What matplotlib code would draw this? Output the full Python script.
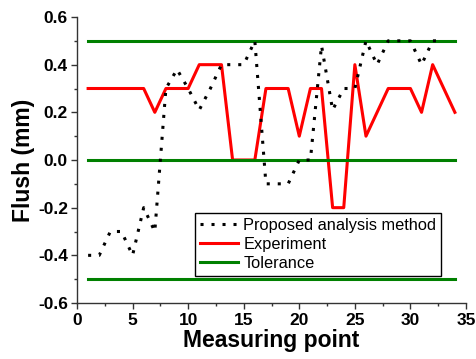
import matplotlib
matplotlib.use("Agg")
import matplotlib.pyplot as plt
from matplotlib.ticker import MultipleLocator, FormatStrFormatter

plt.rcParams['font.family'] = ['Liberation Sans', 'DejaVu Sans']

# Data
points_exp = list(range(1, 35))
experiment = [0.3, 0.3, 0.3, 0.3, 0.3, 0.3, 0.2, 0.3, 0.3, 0.3,
              0.4, 0.4, 0.4, 0.0, 0.0, 0.0, 0.3, 0.3, 0.3, 0.1,
              0.3, 0.3, -0.2, -0.2, 0.4, 0.1, 0.2, 0.3, 0.3, 0.3,
              0.2, 0.4, 0.3, 0.2]
points_prop = list(range(1, 34))
proposed = [-0.4, -0.4, -0.3, -0.3, -0.4, -0.2, -0.3, 0.3, 0.38, 0.3,
            0.21, 0.3, 0.4, 0.4, 0.4, 0.5, -0.1, -0.1, -0.1, 0.0,
            0.0, 0.48, 0.21, 0.3, 0.3, 0.5, 0.4, 0.5, 0.5, 0.5,
            0.4, 0.5, 0.5]
tolerance = [0.5, 0.0, -0.5]
tol_range = [1, 34]

fig = plt.figure(figsize=(4.77, 3.59), dpi=100)
ax = fig.add_axes([77/477, 1-303/359, (466-77)/477, (303-17)/359])

ax.plot(points_exp, experiment, color='#ff0000', lw=2.2, zorder=2, label='Experiment')
for i, t in enumerate(tolerance):
    ax.plot(tol_range, [t, t], color='#008000', lw=2.2, zorder=3,
            label='Tolerance' if i == 0 else None)
ax.plot(points_prop, proposed, color='black', lw=2.2, linestyle=(0, (1, 2.6)),
        zorder=4, label='Proposed analysis method')

ax.set_xlim(0, 35)
ax.set_ylim(-0.6, 0.6)
ax.xaxis.set_major_locator(MultipleLocator(5))
ax.xaxis.set_minor_locator(MultipleLocator(2.5))
ax.yaxis.set_major_locator(MultipleLocator(0.2))
ax.yaxis.set_minor_locator(MultipleLocator(0.1))
ax.yaxis.set_major_formatter(FormatStrFormatter('%.1f'))

for s in ['top', 'right']:
    ax.spines[s].set_visible(False)
for s in ['left', 'bottom']:
    ax.spines[s].set_color('#333333')
    ax.spines[s].set_linewidth(1.0)

ax.tick_params(which='major', direction='out', length=4, width=1, color='#333333',
               labelsize=12.5)
ax.tick_params(axis='x', which='major', pad=3)
ax.tick_params(axis='y', which='major', pad=2.5)
ax.tick_params(which='minor', direction='out', length=2.5, width=1, color='#333333')
for lbl in ax.get_xticklabels() + ax.get_yticklabels():
    lbl.set_fontweight('bold')

ax.set_xlabel('Measuring point', fontsize=16.5, fontweight='bold', labelpad=1)
ax.set_ylabel('Flush (mm)', fontsize=16.5, fontweight='bold', labelpad=2)

handles, labels = ax.get_legend_handles_labels()
order = [labels.index('Proposed analysis method'), labels.index('Experiment'), labels.index('Tolerance')]
leg = ax.legend([handles[i] for i in order], [labels[i] for i in order],
                loc='upper left', bbox_to_anchor=(118/389, (303-212.7)/286),
                borderaxespad=0, fontsize=11.8, frameon=True, fancybox=False,
                edgecolor='black', framealpha=1, handlelength=2.3, handletextpad=0.35,
                labelspacing=0.25, borderpad=0.3)
leg.get_frame().set_linewidth(1.0)

fig.savefig('out.png', dpi=100)
